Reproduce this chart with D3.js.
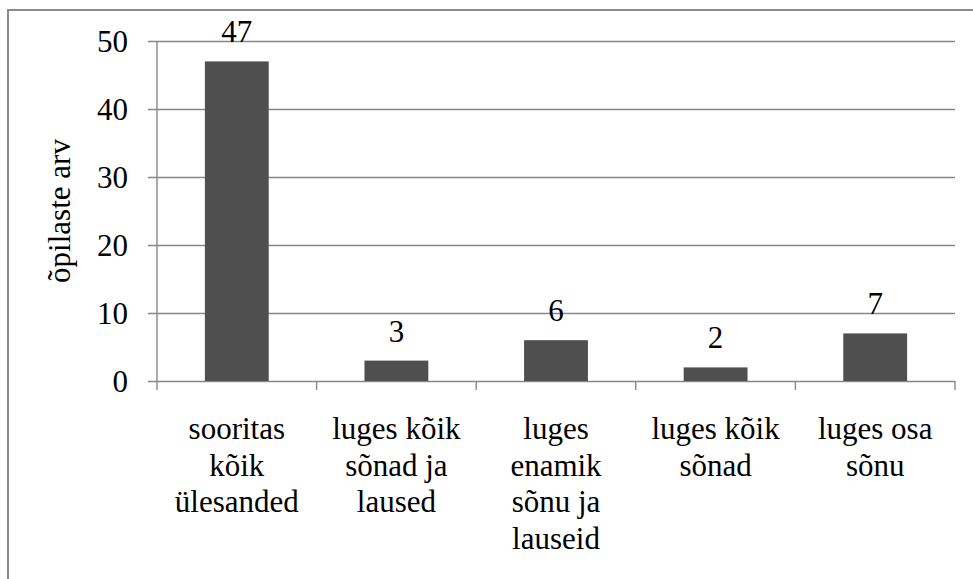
<!DOCTYPE html>
<html>
<head>
<meta charset="utf-8">
<script src="https://cdn.jsdelivr.net/npm/d3@7"></script>
<style>
  body { margin: 0; }
  #chart { display: block; }
  html body svg#chart text, html body svg#chart tspan {
    font-family: "Liberation Serif", "Times New Roman", Tinos, "Nimbus Roman", FreeSerif !important;
  }
</style>
</head>
<body>
<svg id="chart" width="973" height="579"></svg>
<script>
// Number of pupils per reading outcome
const categories = [
  "sooritas kõik ülesanded",
  "luges kõik sõnad ja laused",
  "luges enamik sõnu ja lauseid",
  "luges kõik sõnad",
  "luges osa sõnu"
];
// Line breaks used for the category labels
const categoryLines = [
  ["sooritas", "kõik", "ülesanded"],
  ["luges kõik", "sõnad ja", "laused"],
  ["luges", "enamik", "sõnu ja", "lauseid"],
  ["luges kõik", "sõnad"],
  ["luges osa", "sõnu"]
];
const values = [47, 3, 6, 2, 7];
const yTicks = [0, 10, 20, 30, 40, 50];
const yTitle = "õpilaste arv";

const W = 973, H = 579;
const plot = { left: 157, right: 955, top: 41, bottom: 381 };
const fontSize = 31;
const gridColor = "#878787";
const barColor = "#4f4f4f";

const svg = d3.select("#chart");

// Outer chart frame (runs off the right and bottom edges)
svg.append("rect")
  .attr("x", 8).attr("y", 10)
  .attr("width", W + 10).attr("height", H + 10)
  .attr("fill", "none")
  .attr("stroke", "#8a8a8a")
  .attr("stroke-width", 2);

const x = d3.scaleBand()
  .domain(categories)
  .range([plot.left, plot.right])
  .paddingInner(0.6)
  .paddingOuter(0.3);

const y = d3.scaleLinear()
  .domain([0, 50])
  .range([plot.bottom, plot.top]);

// Horizontal gridlines with left tick stubs
const yAxis = d3.axisLeft(y)
  .tickValues(yTicks)
  .tickSize(plot.right - plot.left + 9)
  .tickPadding(20)
  .tickFormat(d3.format("d"));

const gy = svg.append("g")
  .attr("transform", `translate(${plot.right},0)`)
  .call(yAxis)
  .attr("font-family", null)
  .attr("font-size", fontSize);
gy.select(".domain").remove();
gy.selectAll(".tick line")
  .attr("stroke", gridColor)
  .attr("stroke-width", 1.4);
gy.selectAll(".tick text")
  .attr("x", -(plot.right - plot.left) - 29)
  .attr("dy", "0.34em")
  .attr("fill", "#000")
  .style("font-size", fontSize + "px");

// Vertical axis line
svg.append("line")
  .attr("x1", plot.left).attr("x2", plot.left)
  .attr("y1", plot.top).attr("y2", plot.bottom)
  .attr("stroke", gridColor).attr("stroke-width", 1.4);

// Category boundary ticks below the baseline
const half = x.step() * x.paddingInner() / 2;
const boundaries = categories.map(c => x(c) - half)
  .concat([x(categories[categories.length - 1]) + x.bandwidth() + half]);
svg.append("g").selectAll("line")
  .data(boundaries)
  .join("line")
  .attr("x1", d => d).attr("x2", d => d)
  .attr("y1", plot.bottom).attr("y2", plot.bottom + 9)
  .attr("stroke", gridColor).attr("stroke-width", 1.4);

// Bars
svg.append("g").selectAll("rect")
  .data(values)
  .join("rect")
  .attr("x", (d, i) => x(categories[i]))
  .attr("y", d => y(d))
  .attr("width", x.bandwidth())
  .attr("height", d => y(0) - y(d))
  .attr("fill", barColor);

// Value labels
svg.append("g").selectAll("text")
  .data(values)
  .join("text")
  .attr("x", (d, i) => x(categories[i]) + x.bandwidth() / 2)
  .attr("y", d => y(d) - 19)
  .attr("text-anchor", "middle")
  .attr("fill", "#000")
  .style("font-size", fontSize + "px")
  .text(d => d);

// Category labels
const lineStep = 36.7;
svg.append("g").selectAll("text")
  .data(categories)
  .join("text")
  .attr("x", d => x(d) + x.bandwidth() / 2)
  .attr("y", 439)
  .attr("text-anchor", "middle")
  .attr("fill", "#000")
  .style("font-size", fontSize + "px")
  .each(function(d, i) {
    const cx = x(d) + x.bandwidth() / 2;
    d3.select(this).selectAll("tspan")
      .data(categoryLines[i])
      .join("tspan")
      .attr("x", cx)
      .attr("dy", (ln, j) => j === 0 ? 0 : lineStep)
      .text(ln => ln);
  });

// Y-axis title
svg.append("text")
  .attr("transform", `translate(70,${(plot.top + plot.bottom) / 2}) rotate(-90)`)
  .attr("text-anchor", "middle")
  .attr("fill", "#000")
  .style("font-size", fontSize + "px")
  .text(yTitle);
</script>
</body>
</html>
